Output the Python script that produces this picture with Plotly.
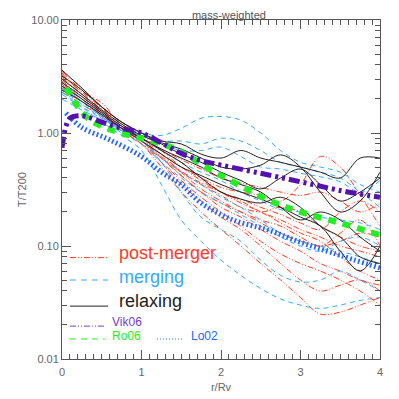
import plotly.graph_objs as go

# radius grid (r/Rv) shared by the simulated clusters
r_grid = [0, 0.25, 0.5, 0.75, 1.0, 1.25, 1.5, 1.75, 2.0, 2.25, 2.5, 2.75, 3.0, 3.25, 3.5, 3.75, 4.0]

# post-merger clusters (T/T200)
post_merger = [
    [3.5, 2.5, 1.7, 1.25, 0.95, 0.7, 0.5, 0.38, 0.3, 0.25, 0.2, 0.17, 0.14, 0.12, 0.1, 0.09, 0.08],
    [3.2, 2.3, 1.6, 1.15, 0.9, 0.6, 0.42, 0.3, 0.22, 0.18, 0.14, 0.11, 0.09, 0.07, 0.06, 0.05, 0.045],
    [2.9, 2.1, 1.5, 1.1, 0.85, 0.55, 0.35, 0.25, 0.18, 0.14, 0.1, 0.07, 0.05, 0.04, 0.045, 0.05, 0.04],
    [2.5, 1.9, 1.45, 1.1, 0.85, 0.65, 0.5, 0.4, 0.33, 0.3, 0.28, 0.25, 0.35, 0.62, 0.5, 0.28, 0.15],
    [3.0, 2.2, 1.55, 1.1, 0.8, 0.5, 0.3, 0.2, 0.14, 0.1, 0.07, 0.05, 0.035, 0.025, 0.026, 0.03, 0.035],
    [2.6, 1.9, 1.4, 1.05, 0.8, 0.6, 0.45, 0.35, 0.28, 0.22, 0.2, 0.22, 0.2, 0.15, 0.12, 0.1, 0.09],
    [3.4, 2.4, 1.65, 1.2, 0.9, 0.65, 0.45, 0.32, 0.25, 0.2, 0.16, 0.13, 0.11, 0.1, 0.11, 0.13, 0.12],
    [2.7, 2.0, 1.5, 1.15, 0.9, 0.7, 0.55, 0.4, 0.3, 0.24, 0.2, 0.16, 0.13, 0.11, 0.08, 0.06, 0.05],
    [3.1, 2.2, 1.55, 1.1, 0.85, 0.62, 0.46, 0.36, 0.3, 0.26, 0.22, 0.19, 0.16, 0.14, 0.2, 0.25, 0.2],
    [2.3, 1.8, 1.4, 1.1, 0.9, 0.72, 0.58, 0.48, 0.4, 0.36, 0.33, 0.3, 0.28, 0.3, 0.25, 0.2, 0.24],
    [2.8, 2.0, 1.45, 1.05, 0.8, 0.55, 0.38, 0.27, 0.2, 0.15, 0.11, 0.085, 0.07, 0.06, 0.05, 0.04, 0.03],
    [3.3, 2.3, 1.85, 1.15, 0.85, 0.6, 0.42, 0.3, 0.24, 0.2, 0.17, 0.15, 0.12, 0.1, 0.13, 0.17, 0.1],
]

# merging clusters
merging = [
    [2.4, 1.9, 1.4, 1.1, 1.0, 0.95, 1.1, 1.35, 1.4, 1.3, 1.0, 0.7, 0.55, 0.5, 0.45, 0.35, 0.3],
    [2.2, 1.7, 1.35, 1.1, 0.95, 0.85, 0.85, 0.8, 0.9, 0.85, 0.7, 0.55, 0.5, 0.45, 0.4, 0.3, 0.22],
    [2.6, 1.9, 1.4, 1.05, 0.85, 0.6, 0.45, 0.35, 0.27, 0.22, 0.17, 0.13, 0.11, 0.1, 0.09, 0.08, 0.07],
    [2.3, 1.7, 1.25, 0.95, 0.7, 0.35, 0.17, 0.11, 0.075, 0.055, 0.042, 0.034, 0.03, 0.028, 0.03, 0.033, 0.035],
    [2.4, 1.8, 1.35, 1.05, 0.85, 0.55, 0.3, 0.18, 0.14, 0.11, 0.075, 0.055, 0.048, 0.05, 0.06, 0.05, 0.04],
    [2.5, 1.9, 1.45, 1.15, 0.95, 0.8, 0.7, 0.7, 0.75, 0.62, 0.5, 0.48, 0.44, 0.41, 0.37, 0.3, 0.38],
    [2.0, 1.6, 1.3, 1.05, 0.9, 0.7, 0.55, 0.45, 0.38, 0.3, 0.25, 0.21, 0.2, 0.18, 0.17, 0.16, 0.14],
    [2.8, 2.0, 1.4, 1.0, 0.8, 0.55, 0.4, 0.3, 0.24, 0.19, 0.15, 0.12, 0.1, 0.09, 0.11, 0.12, 0.1],
]

# relaxing clusters
relaxing = [
    [3.6, 2.5, 1.7, 1.25, 1.0, 0.85, 0.8, 0.65, 0.6, 0.7, 0.6, 0.55, 0.5, 0.45, 0.4, 0.6, 0.6],
    [3.0, 2.2, 1.6, 1.2, 0.95, 0.82, 0.72, 0.6, 0.5, 0.48, 0.52, 0.64, 0.5, 0.3, 0.2, 0.25, 0.45],
    [2.8, 2.1, 1.55, 1.15, 0.9, 0.72, 0.6, 0.5, 0.4, 0.35, 0.3, 0.22, 0.17, 0.2, 0.17, 0.12, 0.09],
    [2.6, 2.0, 1.5, 1.1, 0.85, 0.65, 0.5, 0.42, 0.35, 0.3, 0.26, 0.22, 0.18, 0.15, 0.09, 0.06, 0.1],
    [3.2, 2.4, 1.7, 1.25, 1.0, 0.8, 0.65, 0.55, 0.45, 0.38, 0.32, 0.4, 0.48, 0.35, 0.25, 0.3, 0.4],
    [2.4, 1.9, 1.45, 1.1, 0.9, 0.7, 0.55, 0.4, 0.3, 0.26, 0.24, 0.27, 0.22, 0.15, 0.12, 0.08, 0.07],
]

# model profiles from the literature
vik06_r = [0, 0.05, 0.1, 0.2, 0.3, 0.5, 0.75, 1.0, 1.25, 1.5, 1.75, 2.0, 2.5, 3.0, 3.5, 4.0]
vik06_t = [0.74, 1.15, 1.35, 1.42, 1.4, 1.25, 1.1, 1.0, 0.82, 0.66, 0.57, 0.52, 0.44, 0.37, 0.31, 0.27]

ro06_r = [0.05, 0.1, 0.2, 0.35, 0.5, 0.7, 1.0, 1.35, 1.6, 1.85, 2.15, 2.65, 3.0, 3.5, 4.0]
ro06_t = [2.5, 2.2, 1.7, 1.3, 1.15, 1.02, 0.9, 0.76, 0.62, 0.48, 0.37, 0.245, 0.2, 0.16, 0.125]

lo02_r = [0.05, 0.25, 0.6, 1.0, 1.25, 1.5, 1.75, 2.15, 2.6, 3.0, 3.4, 4.0]
lo02_t = [1.5, 1.12, 0.87, 0.62, 0.45, 0.35, 0.24, 0.17, 0.138, 0.108, 0.087, 0.064]

RED = '#ff3a1f'
LBLUE = '#33aaff'
BLACK = '#222222'
PURPLE = '#5510b0'
GREEN = '#22ee22'
BLUE = '#2266ff'

DASHDOT3 = '6px,2px,1px,2px,1px,2px'

fig = go.Figure()

for prof in post_merger:
    fig.add_trace(go.Scatter(x=r_grid, y=prof, mode='lines', line_shape='spline',
                             line=dict(color=RED, width=1, dash=DASHDOT3), showlegend=False))
for prof in merging:
    fig.add_trace(go.Scatter(x=r_grid, y=prof, mode='lines', line_shape='spline',
                             line=dict(color=LBLUE, width=1, dash='5px,4px'), showlegend=False))
for prof in relaxing:
    fig.add_trace(go.Scatter(x=r_grid, y=prof, mode='lines', line_shape='spline',
                             line=dict(color=BLACK, width=1), showlegend=False))

# thick model curves on top
fig.add_trace(go.Scatter(x=lo02_r, y=lo02_t, mode='lines', line_shape='spline',
                         line=dict(color=BLUE, width=5, dash='1.7px,2.5px'), showlegend=False))
fig.add_trace(go.Scatter(x=ro06_r, y=ro06_t, mode='lines', line_shape='spline',
                         line=dict(color=GREEN, width=6, dash='8px,7px'), showlegend=False))
fig.add_trace(go.Scatter(x=vik06_r, y=vik06_t, mode='lines', line_shape='spline',
                         line=dict(color=PURPLE, width=5, dash='11px,4px,3px,4px,3px,4px'), showlegend=False))

# hand-made legend in the lower left corner (paper coords)
legend_rows = [
    # label, colour, dash, line y, text y, x0, x1, text x, size
    ('post-merger', RED, DASHDOT3, 0.299, 0.313, 0.025, 0.145, 0.173, 18),
    ('merging', LBLUE, '6px,5px', 0.233, 0.243, 0.025, 0.145, 0.173, 18),
    ('relaxing', BLACK, 'solid', 0.156, 0.171, 0.025, 0.145, 0.173, 18),
    ('Vik06', '#7a3ac8', DASHDOT3, 0.097, 0.109, 0.025, 0.135, 0.151, 12),
    ('Ro06', GREEN, '6px,5px', 0.059, 0.068, 0.025, 0.135, 0.151, 12),
    ('Lo02', BLUE, '1px,2px', 0.059, 0.068, 0.299, 0.381, 0.40, 12),
]
for lab, col, dash, ly, ty, x0, x1, tx, size in legend_rows:
    fig.add_shape(type='line', xref='paper', yref='paper', x0=x0, x1=x1, y0=ly, y1=ly,
                  line=dict(color=col, width=1, dash=dash))
    fig.add_annotation(xref='paper', yref='paper', x=tx, y=ty, text=lab, showarrow=False,
                       xanchor='left', yanchor='middle', font=dict(color=col, size=size))

axis_style = dict(showline=True, linecolor='#555555', linewidth=1, mirror='ticks',
                  ticks='inside', ticklen=9, tickcolor='#555555', showgrid=False, zeroline=False,
                  automargin=False, tickfont=dict(size=11, color='#666666'))

# the page body adds an 8px offset, so the figure is a bit smaller than the window
fig.update_layout(
    width=391, height=391,
    margin=dict(l=54, r=19, t=12, b=40),
    paper_bgcolor='white', plot_bgcolor='white',
    font=dict(family='Liberation Sans, Arial, sans-serif', color='#555555'),
    title=dict(text='mass-weighted', x=0.565, xanchor='center', y=0.981, yanchor='middle',
               font=dict(size=11, color='#555555')),
    xaxis=dict(range=[0, 4], tickvals=[0, 1, 2, 3, 4], ticklabelstandoff=3,
               minor=dict(dtick=0.1, ticks='inside', ticklen=5, tickcolor='#555555'),
               title=dict(text='r/Rv', font=dict(size=11, color='#666666'), standoff=6),
               **axis_style),
    yaxis=dict(type='log', range=[-2, 1], tickvals=[0.01, 0.1, 1, 10], tickformat='.2f',
               minor=dict(dtick='D1', ticks='inside', ticklen=5, tickcolor='#555555'),
               title=dict(text='T/T200', font=dict(size=11, color='#666666'), standoff=2),
               **axis_style),
)

fig.write_html("out.html")
